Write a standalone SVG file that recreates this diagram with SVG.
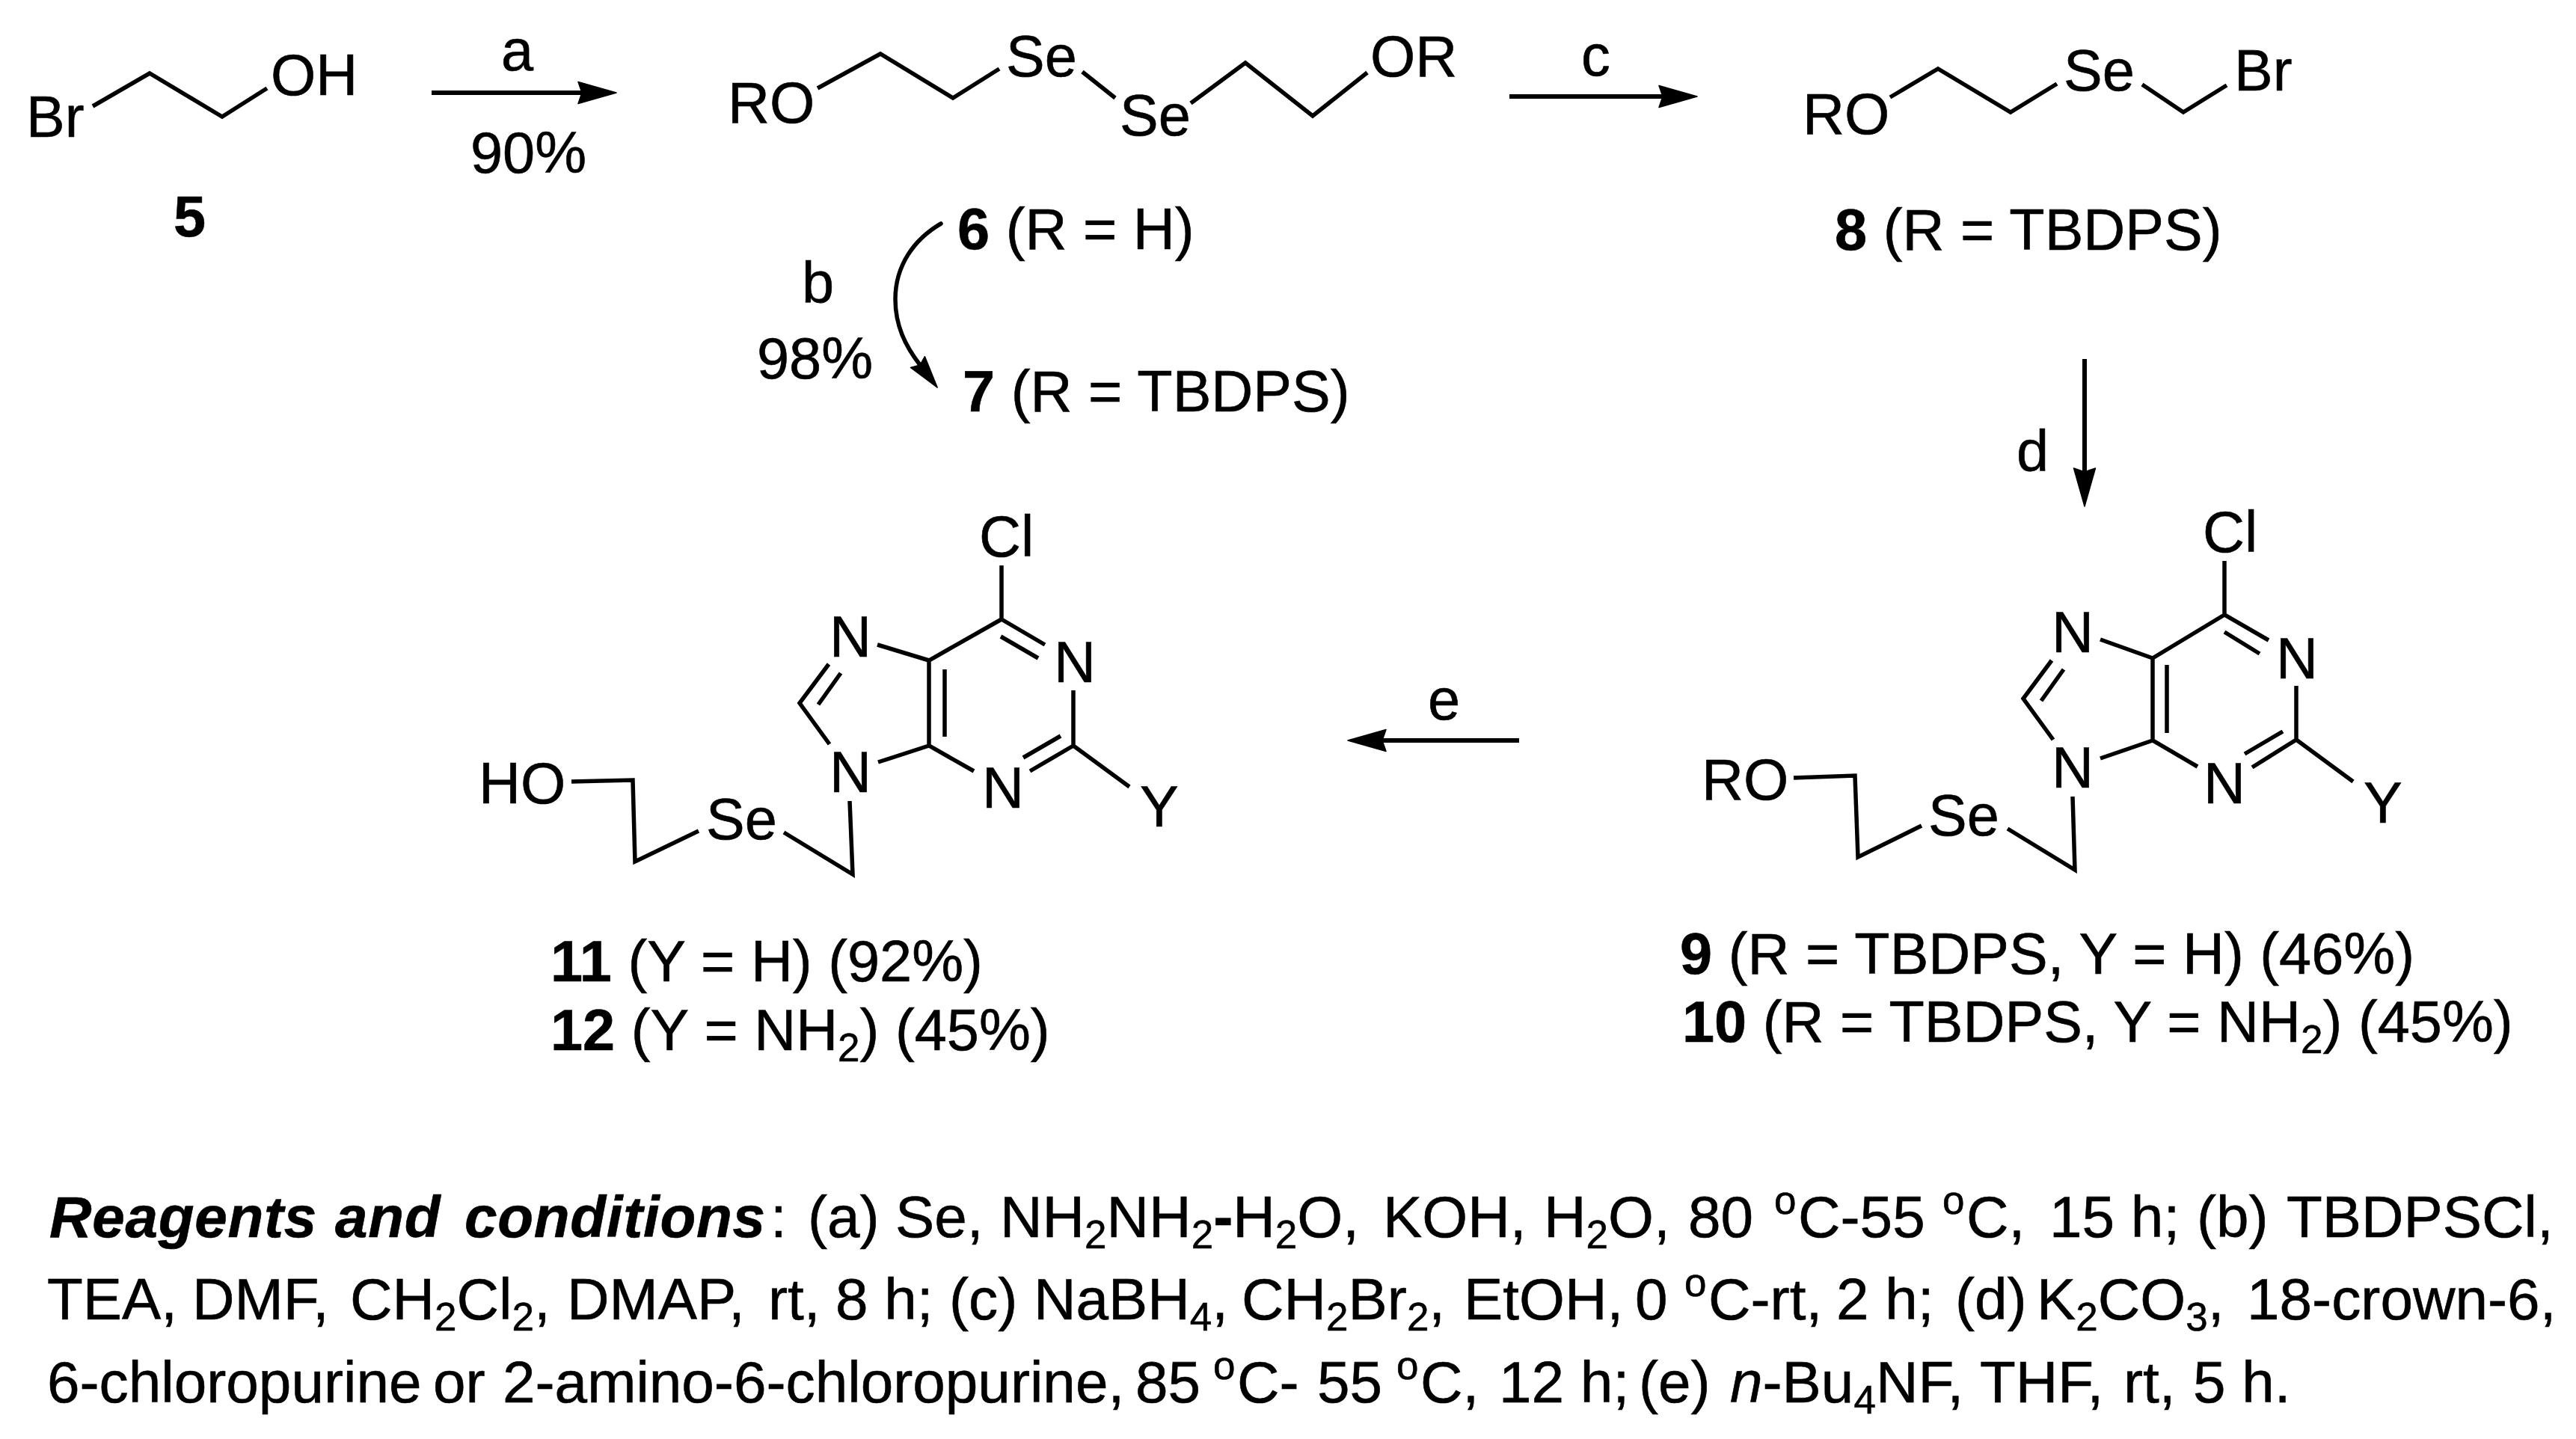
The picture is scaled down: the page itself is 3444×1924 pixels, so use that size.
<svg xmlns="http://www.w3.org/2000/svg" width="3444" height="1924" viewBox="0 0 3444 1924">
<style>
text{font-family:"Liberation Sans",Arial,sans-serif;font-size:77.5px;fill:#000;stroke:#000;stroke-width:.6}
.c{font-size:78.3px}
.b{font-weight:700}
.s{font-size:53px}
.bi{font-weight:700;font-style:italic;letter-spacing:.7px}
.i{font-style:italic}
.bond{fill:none;stroke:#000;stroke-width:5.5}
.arr{fill:none;stroke:#000;stroke-width:6;marker-end:url(#h)}
.cur{fill:none;stroke:#000;stroke-width:5.5;stroke-linecap:round;marker-end:url(#k)}
</style>
<defs>
<marker id="h" markerUnits="userSpaceOnUse" markerWidth="56" markerHeight="36" refX="6" refY="18" orient="auto" overflow="visible"><path d="M1,3.5 L52,18 L1,32.5 L6,18 Z" fill="#000" stroke="#000" stroke-width="1.5" stroke-linejoin="round"/></marker>
<marker id="k" markerUnits="userSpaceOnUse" markerWidth="48" markerHeight="30" refX="5" refY="15" orient="auto" overflow="visible"><path d="M0,3 L43,15 L0,27 L5,15 Z" fill="#000" stroke="#000" stroke-width="1.5" stroke-linejoin="round"/></marker>
</defs>
<rect width="3444" height="1924" fill="#fff"/>
<g id="connectors">
<path class="arr" d="M577,124H778"/>
<path class="arr" d="M2018,129H2223"/>
<path class="arr" d="M2787,480V631"/>
<path class="arr" d="M2031,990H1848"/>
<path class="cur" d="M1258,299C1222,320 1197,355 1197,400C1197,435 1210,462 1230,488"/>
</g>
<g id="reaction-labels">
<text x="670" y="94">a</text>
<text x="629" y="231">90%</text>
<text x="1072" y="405">b</text>
<text x="1012" y="506">98%</text>
<text x="2114" y="101">c</text>
<text x="2696" y="630">d</text>
<text x="1909" y="962">e</text>
</g>
<g id="compound-5">
<text x="35" y="183">Br</text>
<text x="362" y="127">OH</text>
<path class="bond" d="M124,142L200,98L297,156L357,118"/>
<text class="b" x="232" y="316">5</text>
</g>
<g id="compound-6-7">
<text x="973" y="164">RO</text>
<path class="bond" d="M1093,118L1177,72L1274,131L1336,92M1447,96L1491,131M1592,138L1665,84L1755,155L1828,97"/>
<text x="1345" y="102">Se</text>
<text x="1497" y="181">Se</text>
<text x="1832" y="102">OR</text>
<text x="1280" y="333"><tspan class="b">6</tspan> (R = H)</text>
<text x="1287" y="550"><tspan class="b">7</tspan> (R = TBDPS)</text>
</g>
<g id="compound-8">
<text x="2410" y="179">RO</text>
<path class="bond" d="M2527,130L2591,92L2688,150L2750,112M2864,113L2919,150L2977,114"/>
<text x="2759" y="121">Se</text>
<text x="2987" y="121">Br</text>
<text x="2453" y="334"><tspan class="b">8</tspan> (R = TBDPS)</text>
</g>
<g id="compound-11-12">
<text x="1309" y="744">Cl</text>
<path class="bond" d="M1339,756V828L1397,862M1338,851L1388,880M1435,923V997L1377,1031M1418,984L1368,1013M1302,1031L1242,997V883L1339,828M1263,895V985M1242,883L1173,862M1108,888L1069,940L1109,995M1124,900L1094,942M1242,997L1174,1019M1136,1071L1140,1169L1048,1113M934,1111L849,1152L846,1043L764,1045M1435,997L1510,1052"/>
<text x="1409" y="912">N</text>
<text x="1313" y="1080">N</text>
<text x="1109" y="878">N</text>
<text x="1109" y="1059">N</text>
<text x="944" y="1122">Se</text>
<text x="640" y="1074">HO</text>
<text x="1524" y="1105">Y</text>
<text x="736" y="1312"><tspan class="b">11</tspan> (Y = H) (92%)</text>
<text x="736" y="1404"><tspan class="b">12</tspan> (Y = NH<tspan class="s" y="1419">2</tspan><tspan y="1404">) (45%)</tspan></text>
</g>
<g id="compound-9-10">
<text x="2945" y="738">Cl</text>
<path class="bond" d="M2974,750V822L3033,856M2974,845L3021,874M3070,917V989L3011,1026M3052,978L3001,1008M2938,1025L2878,990V880L2974,822M2897,889V980M2878,880L2808,855M2743,883L2705,934L2745,989M2759,895L2729,937M2878,990L2808,1014M2771,1065L2774,1163L2684,1108M2569,1104L2484,1146L2480,1037L2398,1040M3070,989L3146,1045"/>
<text x="3043" y="907">N</text>
<text x="2946" y="1074">N</text>
<text x="2743" y="872">N</text>
<text x="2743" y="1053">N</text>
<text x="2578" y="1117">Se</text>
<text x="2275" y="1069">RO</text>
<text x="3160" y="1100">Y</text>
<text x="2246" y="1302"><tspan class="b">9</tspan> (R = TBDPS, Y = H) (46%)</text>
<text x="2249" y="1393"><tspan class="b">10</tspan> (R = TBDPS, Y = NH<tspan class="s" y="1408">2</tspan><tspan y="1393">) (45%)</tspan></text>
</g>
<g id="conditions">
<text class="c" y="1654"><tspan class="bi" x="66">Reagents</tspan><tspan class="bi" x="448">and</tspan><tspan class="bi" x="621">conditions</tspan><tspan x="1030">:</tspan><tspan x="1080">(a)</tspan><tspan x="1197">Se,</tspan><tspan x="1337">NH</tspan><tspan class="s" y="1669">2</tspan><tspan y="1654">NH</tspan><tspan class="s" y="1669">2</tspan><tspan class="b" y="1654">-</tspan><tspan>H</tspan><tspan class="s" y="1669">2</tspan><tspan y="1654">O,</tspan><tspan x="1849">KOH,</tspan><tspan x="2064">H</tspan><tspan class="s" y="1669">2</tspan><tspan y="1654">O,</tspan><tspan x="2257">80</tspan><tspan class="s" x="2372" y="1623">o</tspan><tspan x="2404" y="1654">C-55</tspan><tspan class="s" x="2597" y="1623">o</tspan><tspan x="2629" y="1654">C,</tspan><tspan x="2740">15 h;</tspan><tspan x="2937">(b)</tspan><tspan x="3057">TBDPSCl,</tspan></text>
<text class="c" y="1764"><tspan x="63">TEA,</tspan><tspan x="257">DMF,</tspan><tspan x="468">CH</tspan><tspan class="s" y="1779">2</tspan><tspan y="1764">Cl</tspan><tspan class="s" y="1779">2</tspan><tspan y="1764">,</tspan><tspan x="758">DMAP,</tspan><tspan x="1027">rt,</tspan><tspan x="1117">8 h;</tspan><tspan x="1269">(c)</tspan><tspan x="1382">NaBH</tspan><tspan class="s" y="1779">4</tspan><tspan y="1764">,</tspan><tspan x="1660">CH</tspan><tspan class="s" y="1779">2</tspan><tspan y="1764">Br</tspan><tspan class="s" y="1779">2</tspan><tspan y="1764">,</tspan><tspan x="1957">EtOH,</tspan><tspan x="2186">0</tspan><tspan class="s" x="2252" y="1733">o</tspan><tspan x="2284" y="1764">C-rt,</tspan><tspan x="2455">2 h;</tspan><tspan x="2614">(d)</tspan><tspan x="2723">K</tspan><tspan class="s" y="1779">2</tspan><tspan y="1764">CO</tspan><tspan class="s" y="1779">3</tspan><tspan y="1764">,</tspan><tspan x="3004">18-crown-6,</tspan></text>
<text class="c" y="1875"><tspan x="63">6-chloropurine</tspan><tspan x="579">or</tspan><tspan x="672">2-amino-6-chloropurine,</tspan><tspan x="1518">85</tspan><tspan class="s" x="1622" y="1844">o</tspan><tspan x="1654" y="1875">C-</tspan><tspan x="1761">55</tspan><tspan class="s" x="1867" y="1844">o</tspan><tspan x="1899" y="1875">C,</tspan><tspan x="2004">12 h;</tspan><tspan x="2191">(e)</tspan><tspan class="i" x="2313">n</tspan><tspan>-Bu</tspan><tspan class="s" y="1890">4</tspan><tspan y="1875">NF,</tspan><tspan x="2647">THF,</tspan><tspan x="2839">rt,</tspan><tspan x="2932">5 h.</tspan></text>
</g>
</svg>
